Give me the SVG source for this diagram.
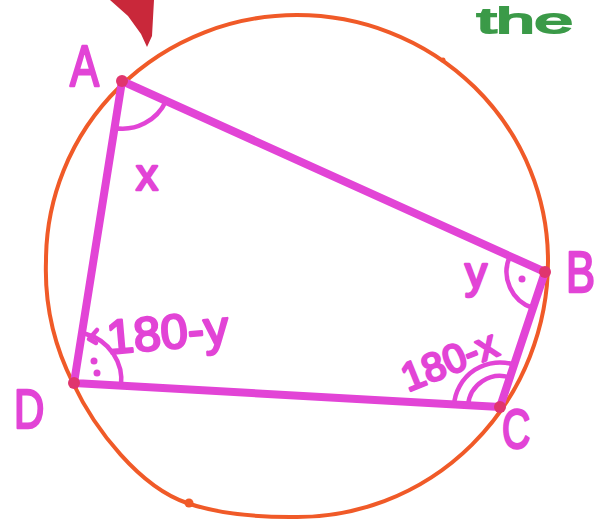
<svg xmlns="http://www.w3.org/2000/svg" width="607" height="523" viewBox="0 0 607 523">
<style>
.lbl{font-family:"Liberation Sans",Arial,sans-serif;fill:#e244d6;stroke:#e244d6;stroke-width:2.5;stroke-linejoin:round}
.mag{fill:none;stroke:#e244d6;stroke-width:8;stroke-linecap:round;stroke-linejoin:round}
.arc{fill:none;stroke:#e244d6;stroke-width:4.5;stroke-linecap:round;stroke-linejoin:round}
.dot{fill:#e244d6}
.vtx{fill:#e0356e}
.orn{fill:#f05a28}
</style>
<rect width="607" height="523" fill="#fff"/>
<path id="red-mark" d="M110,0 L154,0 L152,36 L147,47 L141,34 L128,16 Z" fill="#c9283a"/>
<text x="477" y="33" font-family="'Liberation Sans',Arial,sans-serif" font-size="35" fill="#3b9a48" stroke="#3b9a48" stroke-width="2" textLength="96" lengthAdjust="spacingAndGlyphs">the</text>
<g id="circle">
<path d="M46,261 A251,246 0 0 1 548,261 A251,256 0 0 1 290,517 C240,517 210,511 187,503 C140,487 95,430 73,383 A251,250 0 0 1 46,261 Z" fill="none" stroke="#f05a28" stroke-width="4"/>
<circle class="orn" cx="189" cy="503" r="4.5"/>
<circle class="orn" cx="443" cy="60" r="2.5"/>
</g>
<g id="connectors">
<path class="mag" d="M122,81 L545,272 L500,407 L74,383 Z"/>
</g>
<g id="angles">
<path class="arc" d="M114,128 A48,48 0 0 0 166,101"/>
<path class="arc" d="M510,256 A38,38 0 0 0 533,308"/>
<circle class="dot" cx="522" cy="279" r="3.5"/>
<path class="arc" d="M454,405 A46,46 0 0 1 515,365"/>
<path class="arc" d="M468,406 A32,32 0 0 1 511,378"/>
<path class="arc" d="M86,334 A48,48 0 0 1 121,386"/>
<path class="arc" d="M97,330 L89,339 L96,343"/>
<circle class="dot" cx="94" cy="361" r="3.5"/>
<circle class="dot" cx="97" cy="373" r="3.5"/>
</g>
<g id="vertices">
<circle class="vtx" cx="122" cy="81" r="6"/>
<circle class="vtx" cx="545" cy="272" r="6"/>
<circle class="vtx" cx="500" cy="407" r="6"/>
<circle class="vtx" cx="74" cy="383" r="6"/>
</g>
<g id="node-A"><text class="lbl" x="70" y="86" font-size="58" transform="translate(70 86) scale(0.75 1) translate(-70 -86)">A</text></g>
<g id="node-B"><text class="lbl" x="566" y="292" font-size="58" transform="translate(566 292) scale(0.75 1) translate(-566 -292)">B</text></g>
<g id="node-C"><text class="lbl" x="502" y="448" font-size="56" transform="translate(502 448) scale(0.7 1) translate(-502 -448)">C</text></g>
<g id="node-D"><text class="lbl" x="14" y="428" font-size="56" transform="translate(14 428) scale(0.75 1) translate(-14 -428)">D</text></g>
<text class="lbl" x="136" y="190" font-size="44">x</text>
<text class="lbl" x="465" y="288" font-size="44">y</text>
<text class="lbl" x="108" y="354" font-size="48" transform="rotate(-5 108 354)" textLength="122" lengthAdjust="spacingAndGlyphs">180-y</text>
<text class="lbl" x="408" y="392" font-size="40" transform="rotate(-22 408 392)" textLength="100" lengthAdjust="spacingAndGlyphs">180-x</text>
</svg>
